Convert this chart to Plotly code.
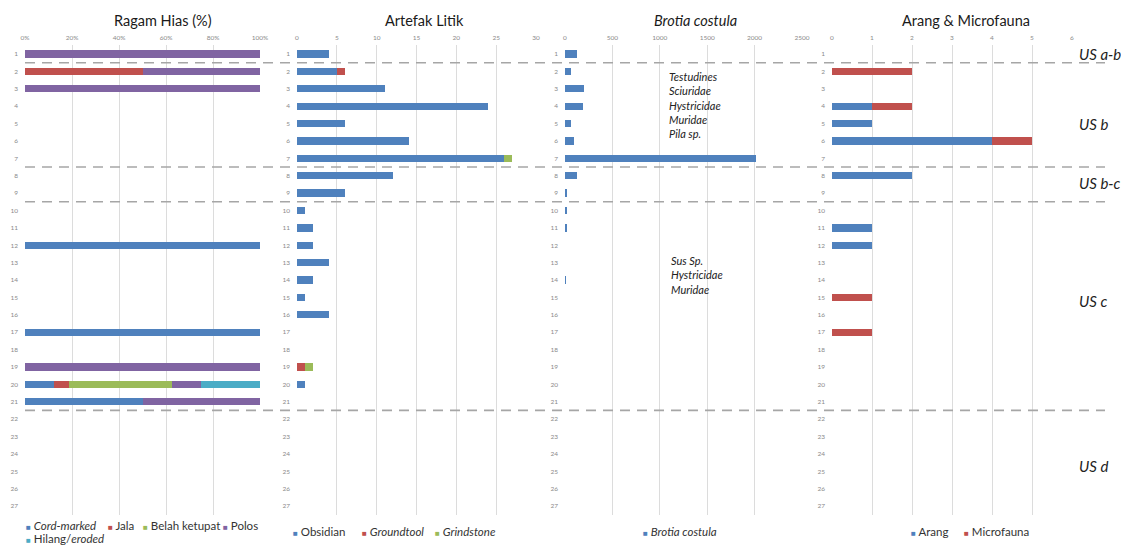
import plotly.graph_objects as go

# ---------------- data ----------------
rows = list(range(1, 28))

# Ragam Hias (%)
ragam_cord_marked = [0, 0, 0, 0, 0, 0, 0, 0, 0, 0, 0, 100, 0, 0, 0, 0, 100, 0, 0, 12.5, 50, 0, 0, 0, 0, 0, 0]
ragam_jala = [0, 50, 0, 0, 0, 0, 0, 0, 0, 0, 0, 0, 0, 0, 0, 0, 0, 0, 0, 6.25, 0, 0, 0, 0, 0, 0, 0]
ragam_belah_ketupat = [0, 0, 0, 0, 0, 0, 0, 0, 0, 0, 0, 0, 0, 0, 0, 0, 0, 0, 0, 43.75, 0, 0, 0, 0, 0, 0, 0]
ragam_polos = [100, 50, 100, 0, 0, 0, 0, 0, 0, 0, 0, 0, 0, 0, 0, 0, 0, 0, 100, 12.5, 50, 0, 0, 0, 0, 0, 0]
ragam_hilang = [0, 0, 0, 0, 0, 0, 0, 0, 0, 0, 0, 0, 0, 0, 0, 0, 0, 0, 0, 25, 0, 0, 0, 0, 0, 0, 0]

# Artefak Litik
litik_obsidian = [4, 5, 11, 24, 6, 14, 26, 12, 6, 1, 2, 2, 4, 2, 1, 4, 0, 0, 0, 1, 0, 0, 0, 0, 0, 0, 0]
litik_groundtool = [0, 1, 0, 0, 0, 0, 0, 0, 0, 0, 0, 0, 0, 0, 0, 0, 0, 0, 1, 0, 0, 0, 0, 0, 0, 0, 0]
litik_grindstone = [0, 0, 0, 0, 0, 0, 1, 0, 0, 0, 0, 0, 0, 0, 0, 0, 0, 0, 1, 0, 0, 0, 0, 0, 0, 0, 0]

# Brotia costula
brotia_costula = [125, 65, 200, 190, 60, 95, 2010, 130, 20, 12, 15, 0, 0, 4, 0, 0, 0, 0, 0, 0, 0, 0, 0, 0, 0, 0, 0]

# Arang & Microfauna
arang = [0, 0, 0, 1, 1, 4, 0, 2, 0, 0, 1, 1, 0, 0, 0, 0, 0, 0, 0, 0, 0, 0, 0, 0, 0, 0, 0]
microfauna = [0, 2, 0, 1, 0, 1, 0, 0, 0, 0, 0, 0, 0, 0, 1, 0, 1, 0, 0, 0, 0, 0, 0, 0, 0, 0, 0]

panel_titles = ["Ragam Hias (%)", "Artefak Litik", "<i>Brotia costula</i>", "Arang & Microfauna"]
unit_boundaries = [1.5, 7.5, 9.5, 21.5]
unit_labels = ["US a-b", "US b", "US b-c", "US c", "US d"]
unit_label_rows = [1.0, 5.0, 8.4, 15.2, 24.7]
note_upper = ["Testudines", "Sciuridae", "Hystricidae", "Muridae", "Pila sp."]
note_lower = ["Sus Sp.", "Hystricidae", "Muridae"]

# ---------------- style ----------------
W, H = 1121, 547
BLUE, RED, GREEN, PURPLE, CYAN = "#4F81BD", "#C0504D", "#9BBB59", "#8064A2", "#4BACC6"
FONT = "Lato"


def px(x):
    return x / W


def py(y):
    return 1 - y / H


plot_top, plot_bottom = 45.3, 514.7
ydom = [py(plot_bottom), py(plot_top)]
panels_px = [(25, 260), (297, 536), (565, 802), (832, 1072)]
x_ranges = [[0, 100], [0, 30], [0, 2500], [0, 6]]
x_dticks = [20, 5, 500, 1]

series = [
    (1, "<i>Cord-marked</i>", ragam_cord_marked, BLUE),
    (1, "Jala", ragam_jala, RED),
    (1, "Belah ketupat", ragam_belah_ketupat, GREEN),
    (1, "Polos", ragam_polos, PURPLE),
    (1, "Hilang/<i>eroded</i>", ragam_hilang, CYAN),
    (2, "Obsidian", litik_obsidian, BLUE),
    (2, "<i>Groundtool</i>", litik_groundtool, RED),
    (2, "<i>Grindstone</i>", litik_grindstone, GREEN),
    (3, "<i>Brotia costula</i>", brotia_costula, BLUE),
    (4, "Arang", arang, BLUE),
    (4, "Microfauna", microfauna, RED),
]

fig = go.Figure()
for k, name, vals, col in series:
    sfx = "" if k == 1 else str(k)
    fig.add_trace(go.Bar(
        x=vals, y=rows, orientation="h", name=name,
        marker=dict(color=col, line=dict(width=0)),
        width=0.42, xaxis="x" + sfx, yaxis="y" + sfx, showlegend=False,
    ))

layout = dict(
    width=W, height=H, margin=dict(l=0, r=0, t=0, b=0, autoexpand=False),
    paper_bgcolor="white", plot_bgcolor="white",
    barmode="stack", font=dict(family=FONT, color="#222"),
    showlegend=False,
)
tickfont = dict(family=FONT, size=6.5, color="#8a8a8a")
for i in range(4):
    sfx = "" if i == 0 else str(i + 1)
    x0, x1 = panels_px[i]
    xa = dict(
        domain=[px(x0), px(x1)], range=x_ranges[i], dtick=x_dticks[i], tick0=0,
        side="top", anchor="y" + sfx, showgrid=True, gridcolor="#DCDCDC", gridwidth=1,
        zeroline=False, showline=False, ticks="", tickfont=tickfont, ticklabelstandoff=3,
        fixedrange=True, automargin=False,
    )
    if i == 0:
        xa["ticksuffix"] = "%"
    ya = dict(
        domain=ydom, range=[27.5, 0.5], tickmode="array", tickvals=rows,
        ticktext=[str(r) for r in rows], anchor="x" + sfx, showgrid=False,
        zeroline=False, showline=False, ticks="", tickfont=tickfont, ticklabelstandoff=6,
        fixedrange=True, automargin=False,
    )
    layout["xaxis" + sfx] = xa
    layout["yaxis" + sfx] = ya
fig.update_layout(**layout)

# dashed unit boundaries
for b in unit_boundaries:
    fig.add_shape(type="line", xref="paper", yref="y", x0=px(25), x1=px(1105), y0=b, y1=b,
                  line=dict(color="#A6A6A6", width=1.6, dash="10px,7px"), layer="above")

annots = []
# panel titles
title_centers = [163, 424, 695, 966]
for t, cx in zip(panel_titles, title_centers):
    annots.append(dict(text=t, x=px(cx), y=py(20), xref="paper", yref="paper",
                       xanchor="center", yanchor="middle", showarrow=False,
                       font=dict(family=FONT, size=14.5, color="#1a1a1a")))
# unit labels
for t, r in zip(unit_labels, unit_label_rows):
    annots.append(dict(text="<i>" + t + "</i>", x=px(1077), y=r, xref="paper", yref="y",
                       xanchor="left", yanchor="middle", showarrow=False,
                       font=dict(family=FONT, size=15, color="#222")))
# notes in Brotia panel (multi-line blocks)
annots.append(dict(text="<br>".join("<i>%s</i>" % t for t in note_upper),
                   x=px(667), y=py(105), xref="paper", yref="paper", xanchor="left",
                   yanchor="middle", align="left", showarrow=False,
                   font=dict(family=FONT, size=11, color="#222")))
annots.append(dict(text="<br>".join("<i>%s</i>" % t for t in note_lower),
                   x=px(669), y=py(275), xref="paper", yref="paper", xanchor="left",
                   yanchor="middle", align="left", showarrow=False,
                   font=dict(family=FONT, size=11, color="#222")))

# legends (as text with coloured squares)
legend_pos = [
    (25, 525), (107, 525), (142, 525), (222, 525), (25, 538),
    (292, 531), (361, 531), (434, 531),
    (642, 531),
    (910, 531), (963, 531),
]
for (k, name, vals, col), (lx, ly) in zip(series, legend_pos):
    annots.append(dict(
        text='<span style="font-size:8px;color:%s">■</span> %s' % (col, name),
        x=px(lx - 1), y=py(ly), xref="paper", yref="paper", xanchor="left", yanchor="middle",
        showarrow=False, font=dict(family=FONT, size=11.5, color="#333")))

fig.update_layout(annotations=annots)
fig.write_html("out.html")
